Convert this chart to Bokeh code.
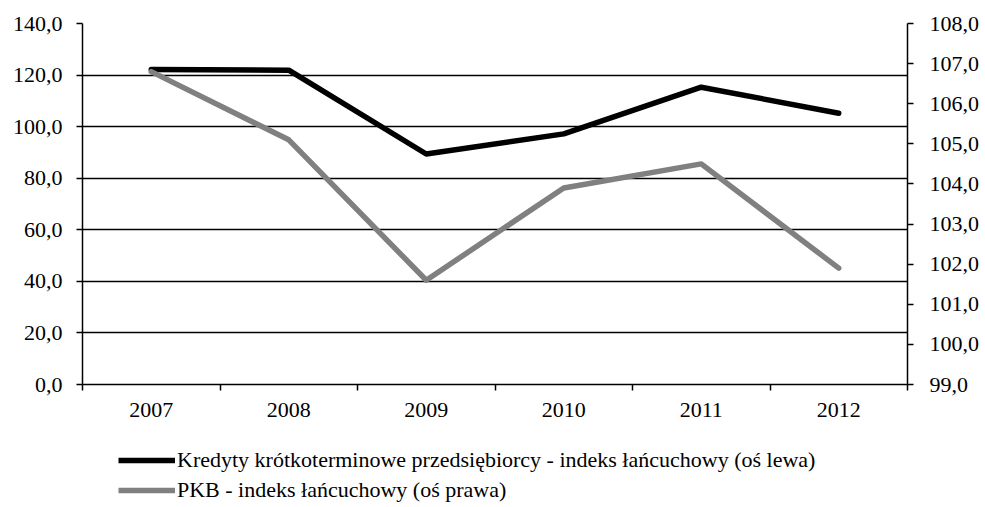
from bokeh.plotting import figure
from bokeh.layouts import column
from bokeh.models import (Range1d, LinearAxis, FixedTicker, CustomJSTickFormatter,
                          Legend, LegendItem, ColumnDataSource, Grid)
from bokeh.embed import file_html
from bokeh.resources import INLINE

years = ["2007", "2008", "2009", "2010", "2011", "2012"]
kredyty = [122.2, 121.9, 89.4, 97.2, 115.3, 105.2]
pkb = [106.8, 105.1, 101.6, 103.9, 104.5, 101.9]
label_kredyty = "Kredyty krótkoterminowe przedsiębiorcy - indeks łańcuchowy (oś lewa)"
label_pkb = "PKB - indeks łańcuchowy (oś prawa)"

FONT = "Liberation Serif"
FS = "22px"
C1 = "black"
C2 = "#808080"
LW = 5.5

xpos = [i + 0.5 for i in range(len(years))]
src = ColumnDataSource(dict(x=xpos, year=years, kredyty=kredyty, pkb=pkb))

p = figure(x_range=Range1d(0, len(years)), y_range=Range1d(0, 140),
           frame_width=825, frame_height=361,
           output_backend="svg", toolbar_location=None,
           x_axis_location=None, y_axis_location=None,
           min_border_left=82, min_border_right=73, min_border_top=23, min_border_bottom=45)
p.outline_line_color = None
p.background_fill_color = "white"
p.border_fill_color = "white"
p.center = [r for r in p.center if not isinstance(r, Grid)]

p.extra_y_ranges = {"right": Range1d(99, 108)}

fmt = CustomJSTickFormatter(code="return tick.toFixed(1).replace('.', ',');")

ly = LinearAxis(ticker=FixedTicker(ticks=[0, 20, 40, 60, 80, 100, 120, 140]), formatter=fmt)
ry = LinearAxis(y_range_name="right", ticker=FixedTicker(ticks=list(range(99, 109))), formatter=fmt)
for ax in (ly, ry):
    ax.major_label_text_font = FONT
    ax.major_label_text_font_size = FS
    ax.major_label_text_color = "black"
    ax.axis_line_color = "black"
    ax.axis_line_width = 1.5
    ax.major_tick_line_color = "black"
    ax.major_tick_line_width = 1.5
    ax.major_tick_out = 6
    ax.major_tick_in = 0
    ax.minor_tick_line_color = None
ly.major_label_standoff = 14
ry.major_label_standoff = 16
p.add_layout(ly, "left")
p.add_layout(ry, "right")

tx = LinearAxis(ticker=FixedTicker(ticks=list(range(len(years) + 1))))
tx.major_label_text_font_size = "0px"
tx.major_label_standoff = 0
tx.axis_line_color = "black"
tx.axis_line_width = 1.5
tx.major_tick_line_color = "black"
tx.major_tick_line_width = 1.5
tx.major_tick_out = 6
tx.major_tick_in = 0
tx.minor_tick_line_color = None
p.add_layout(tx, "below")

cx = LinearAxis(ticker=FixedTicker(ticks=xpos),
                major_label_overrides={x: y for x, y in zip(xpos, years)})
cx.axis_line_color = None
cx.major_tick_line_color = None
cx.minor_tick_line_color = None
cx.major_label_text_font = FONT
cx.major_label_text_font_size = FS
cx.major_label_text_color = "black"
cx.major_label_standoff = 6
p.add_layout(cx, "below")

g = Grid(dimension=1, ticker=FixedTicker(ticks=[20, 40, 60, 80, 100, 120, 140]))
g.grid_line_color = "black"
g.grid_line_width = 1.5
p.add_layout(g)

p.line("x", "kredyty", source=src, line_color=C1, line_width=LW,
       line_join="round", line_cap="round")
p.line("x", "pkb", source=src, y_range_name="right", line_color=C2, line_width=LW,
       line_join="round", line_cap="round")

# legend strip (separate figure so the legend is not clipped by the chart frame);
# its lines use the same data but lie outside this strip's visible range
lf = figure(width=980, height=78, output_backend="svg", toolbar_location=None,
            x_axis_location=None, y_axis_location=None,
            x_range=Range1d(0, 1), y_range=Range1d(0, 1),
            min_border=0, min_border_left=0, min_border_right=0, min_border_top=0, min_border_bottom=0)
lf.outline_line_color = None
lf.center = [r for r in lf.center if not isinstance(r, Grid)]
e1 = lf.line("x", "kredyty", source=src, line_color=C1, line_width=LW)
e2 = lf.line("x", "pkb", source=src, line_color=C2, line_width=LW)

legend = Legend(items=[LegendItem(label=label_kredyty, renderers=[e1]),
                       LegendItem(label=label_pkb, renderers=[e2])],
                location=(36, 4), orientation="vertical")
legend.label_text_font = FONT
legend.label_text_font_size = FS
legend.label_text_color = "black"
legend.glyph_width = 57
legend.glyph_height = 22
legend.label_height = 22
legend.label_standoff = 2
legend.spacing = 4
legend.padding = 0
legend.margin = 0
legend.border_line_color = None
legend.background_fill_alpha = 0
lf.add_layout(legend, "center")

layout = column(p, lf, spacing=0)
open("out.html", "w").write(file_html(layout, INLINE))
